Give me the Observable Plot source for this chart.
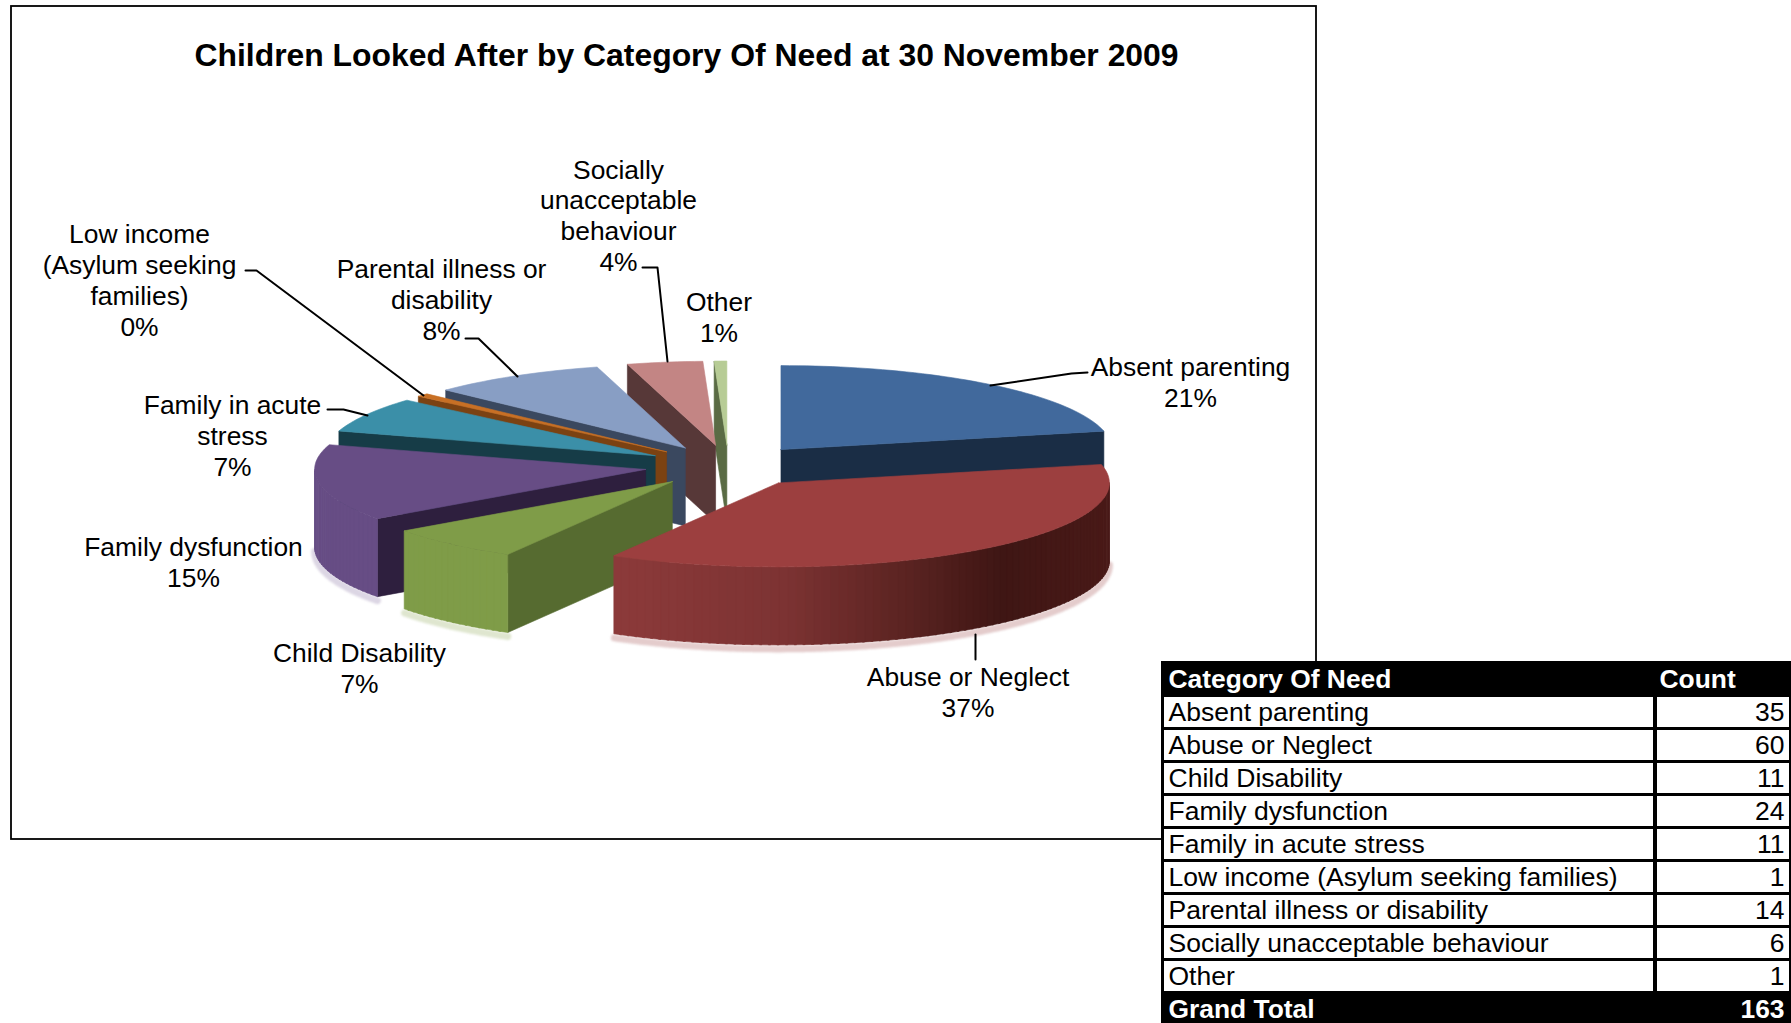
<!DOCTYPE html>
<html><head><meta charset="utf-8">
<script src="https://cdn.jsdelivr.net/npm/d3@7"></script>
<script src="https://cdn.jsdelivr.net/npm/@observablehq/plot@0.6"></script>
<style>html,body{margin:0;padding:0;background:#fff}svg{display:block}</style>
</head><body><div id="chart"></div>
<script>
const chartTitle = "Children Looked After by Category Of Need at 30 November 2009";
const categories = ["Absent parenting","Abuse or Neglect","Child Disability","Family dysfunction","Family in acute stress","Low income (Asylum seeking families)","Parental illness or disability","Socially unacceptable behaviour","Other"];
const counts = [35,60,11,24,11,1,14,6,1];
const percents = [21,37,7,15,7,0,8,4,1];
const labelNames = ["Absent parenting","Abuse or Neglect","Child Disability","Family dysfunction","Family in acute\nstress","Low income\n(Asylum seeking\nfamilies)","Parental illness or\ndisability","Socially\nunacceptable\nbehaviour","Other"];
const grandTotal = 163;
const topColors = ["#41699c","#9c3f3f","#7f9c48","#674d85","#3b8fa8","#c87025","#889ec4","#c38584","#b7cc95"];
const wallColors = ["#1a2d45","#8c3a3a","#566b30","#2e1f3e","#163c47","#7b4212","#3a485f","#573838","#5a6b44"];
const rimColors = ["#1a2d45","#8c3a3a","#7f9c48","#674d85","#163c47","#7b4212","#3a485f","#573838","#5a6b44"];
const glowColors = [null,"#e4cccc","#dfe6cf","#dcd6e4",null,null,null,null,null];
const paintOrder = [8,7,6,5,4,3,0,2,1];
// label centres and leader routes (page layout, full-size px)
const labelX = [1190,967.5,359,193,232,139,441,618,718.5];
const labelY = [381.5,691.5,667.5,561.5,434.5,279,298.5,214.5,316.5];
const leaders = [
  [[1087,372],[1071,373],[990,385]],
  [[975,634],[975,659]],
  [], [],
  [[327,409],[343,409],[367,415]],
  [[245,270],[256,270],[423,395]],
  [[465,338],[478,338],[517,376]],
  [[642,267],[657,267],[667,361]],
  []
];
const W = 1791, H = 1023;
const cx = 728, cy = 465.5, Rx = 331, Ry = 84, explode = 84, depth = 78;
const rad = d => d * Math.PI / 180;
const total = d3.sum(counts);
let acc = 0;
const slices = counts.map((c, i) => {
  const a0 = acc / total * 360; acc += c; const a1 = acc / total * 360;
  const m = rad((a0 + a1) / 2);
  return {i, a0, a1, ax: cx + explode * Math.sin(m), ay: cy - explode * 0.25 * Math.cos(m)};
});
const pt = (s, a, dz = 0) => ({x: s.ax + Rx * Math.sin(rad(a)), y: s.ay - Ry * Math.cos(rad(a)) + dz});
const polys = []; const glow = [];
let pid = 0;
function addPoly(points, color) { const id = pid++; [...points, points[0]].forEach(p => polys.push({x: p.x, y: p.y, id, color})); }
const darkRamp = d3.scaleLinear().domain([612, 780, 900, 1000, 1115]).range(["#8c3a3a","#7d3333","#5c2422","#3f1614","#4a1a18"]).interpolate(d3.interpolateRgb);
for (const i of paintOrder) {
  const s = slices[i];
  const apex = {x: s.ax, y: s.ay};
  const apexB = {x: s.ax, y: s.ay + depth};
  const wall = a => addPoly([apex, pt(s,a), pt(s,a,depth), apexB], wallColors[i]);
  if (Math.sin(rad(s.a0)) < -1e-6) wall(s.a0);
  if (Math.sin(rad(s.a1)) > 1e-6) wall(s.a1);
  const lo = Math.max(s.a0, 90), hi = Math.min(s.a1, 270);
  if (hi > lo) {
    const n = Math.ceil((hi - lo) / 1.5);
    for (let k = 0; k < n; k++) {
      const b0 = lo + (hi - lo) * k / n, b1 = Math.min(hi, lo + (hi - lo) * (k + 1) / n + 0.4);
      const color = i === 1 ? darkRamp(pt(s,(b0+b1)/2).x) : rimColors[i];
      addPoly([pt(s,b0), pt(s,b1), pt(s,b1,depth), pt(s,b0,depth)], color);
    }
    if (glowColors[i]) for (let k = 0; k <= n; k++) {
      const p = pt(s, lo + (hi - lo) * k / n, depth + 4);
      glow.push({x: p.x, y: p.y, id: i, color: glowColors[i]});
    }
  }
  const top = [apex];
  const n = Math.max(2, Math.ceil((s.a1 - s.a0) / 1.5));
  for (let k = 0; k <= n; k++) top.push(pt(s, s.a0 + (s.a1 - s.a0) * k / n));
  addPoly(top, topColors[i]);
}
const leaderPts = leaders.flatMap((l, i) => l.map(([x, y]) => ({x, y, i})));
const labels = labelNames.map((n, i) => ({x: labelX[i], y: labelY[i], text: n + "\n" + percents[i] + "%"}));
// table
const tx0 = 1161, tx1 = 1791, ty0 = 661, ty1 = 1023, headH = 36, rowH = 33;
const cellL = [1164, 1653], cellR = [1657, 1789];
const rows = categories.map((c, i) => ({c, v: counts[i], y1: ty0 + headH + rowH * i, y2: ty0 + headH + rowH * i + 30}));
const fig = Plot.plot({
  width: W, height: H, margin: 0,
  x: {domain: [0, W], range: [0, W], axis: null},
  y: {domain: [0, H], range: [0, H], axis: null},
  color: {type: "identity"},
  style: {fontFamily: "'Liberation Sans', Arial, sans-serif", background: "#fff", maxWidth: "none"},
  marks: [
    Plot.rect([{x1: 11, x2: 1316, y1: 6, y2: 839}], {x1: "x1", x2: "x2", y1: "y1", y2: "y2", fill: "white", stroke: "black", strokeWidth: 1.8}),
    Plot.text([{x: 686, y: 55.5, t: chartTitle}], {x: "x", y: "y", text: "t", fontSize: 31.9, fontWeight: "bold", fill: "black"}),
    Plot.line(glow, {x: "x", y: "y", z: "id", stroke: "color", strokeWidth: 7, strokeDasharray: "4 2", imageFilter: "blur(1px)"}),
    Plot.line(polys, {x: "x", y: "y", z: "id", fill: "color", stroke: "color", strokeWidth: 0.6, curve: "linear", imageFilter: "blur(0.6px)"}),
    Plot.line(leaderPts, {x: "x", y: "y", z: "i", stroke: "black", strokeWidth: 2}),
    Plot.text(labels, {x: "x", y: "y", text: "text", fontSize: 26.4, lineHeight: 1.17, fill: "black", lineAnchor: "middle"}),
    Plot.rect([{x1: tx0, x2: tx1, y1: ty0, y2: ty1}], {x1: "x1", x2: "x2", y1: "y1", y2: "y2", fill: "black"}),
    Plot.rect(rows, {x1: () => cellL[0], x2: () => cellL[1], y1: "y1", y2: "y2", fill: "white"}),
    Plot.rect(rows, {x1: () => cellR[0], x2: () => cellR[1], y1: "y1", y2: "y2", fill: "white"}),
    Plot.text(rows, {x: () => 1168, y: d => (d.y1 + d.y2) / 2, text: "c", textAnchor: "start", fontSize: 26.5, fill: "black"}),
    Plot.text(rows, {x: () => 1784, y: d => (d.y1 + d.y2) / 2, text: d => String(d.v), textAnchor: "end", fontSize: 26.5, fill: "black"}),
    Plot.text([{x: 1168, y: 679, t: "Category Of Need"}, {x: 1659, y: 679, t: "Count"}, {x: 1168, y: 1009, t: "Grand Total"}], {x: "x", y: "y", text: "t", textAnchor: "start", fontSize: 26.4, fontWeight: "bold", fill: "white"}),
    Plot.text([{x: 1784, y: 1009, t: String(grandTotal)}], {x: "x", y: "y", text: "t", textAnchor: "end", fontSize: 26.4, fontWeight: "bold", fill: "white"})
  ]
});
document.getElementById("chart").append(fig);
</script></body></html>
